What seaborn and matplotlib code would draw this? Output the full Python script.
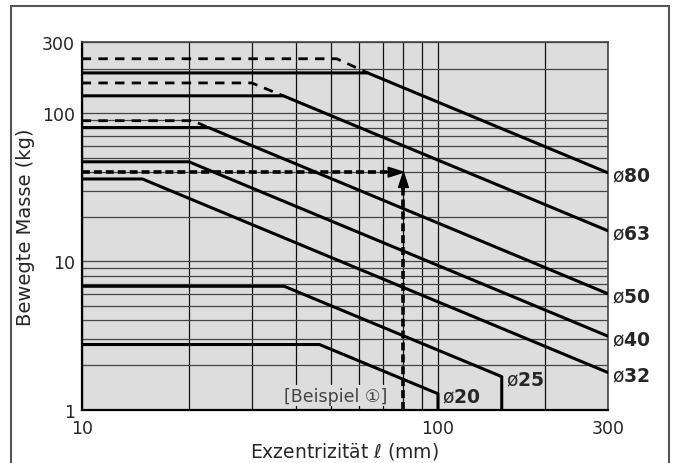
import pandas as pd
import matplotlib.pyplot as plt
import seaborn as sns
from matplotlib.patches import Rectangle

sns.set_style('white')
plt.rcParams['font.family'] = ['DejaVu Sans', 'Noto Sans CJK JP']
plt.rcParams['mathtext.fontset'] = 'dejavusans'

# Curve data (eccentricity in mm, moving mass in kg)
bores = ['80', '63', '50', '40', '32', '25', '20']
ecc_80 = [10, 63.5, 300]
mass_80 = [187, 187, 39.6]
ecc_63 = [10, 36.8, 300]
mass_63 = [131, 131, 16.1]
ecc_50 = [10, 22.7, 300]
mass_50 = [80, 80, 6.05]
ecc_40 = [10, 20, 300]
mass_40 = [47, 47, 3.13]
ecc_32 = [10, 14.8, 300]
mass_32 = [36, 36, 1.78]
ecc_25 = [10, 37, 151, 151]
mass_25 = [6.8, 6.8, 1.67, 1]
ecc_20 = [10, 46.5, 100, 100]
mass_20 = [2.75, 2.75, 1.28, 1]

# dashed extensions (higher plateaus)
dash_bores = ['80', '63', '50']
dash_ecc_80 = [10, 52, 63.5]
dash_mass_80 = [233, 233, 187]
dash_ecc_63 = [10, 30, 36.8]
dash_mass_63 = [160, 160, 131]
dash_ecc_50 = [10, 20.5, 22.7]
dash_mass_50 = [89, 89, 80]

# worked example
example_ecc = 80
example_mass = 40

solid = pd.concat([
    pd.DataFrame({'ecc': e, 'mass': m, 'bore': b})
    for b, e, m in zip(bores,
                       [ecc_80, ecc_63, ecc_50, ecc_40, ecc_32, ecc_25, ecc_20],
                       [mass_80, mass_63, mass_50, mass_40, mass_32, mass_25, mass_20])
])
dashed = pd.concat([
    pd.DataFrame({'ecc': e, 'mass': m, 'bore': b})
    for b, e, m in zip(dash_bores,
                       [dash_ecc_80, dash_ecc_63, dash_ecc_50],
                       [dash_mass_80, dash_mass_63, dash_mass_50])
])

fig = plt.figure(figsize=(6.75, 4.64), dpi=100)
ax = fig.add_axes([0.121, 0.115, 0.7797, 0.7913])
ax.set_facecolor('#dddddd')

ax.set_xscale('log')
ax.set_yscale('log')
ax.set_xlim(10, 300)
ax.set_ylim(1, 300)

ax.set_xticks([10, 100, 300])
ax.set_xticklabels(['10', '100', '300'])
ax.set_xticks([20, 30, 40, 50, 60, 70, 80, 90, 200], minor=True)
ax.set_xticklabels([], minor=True)
ax.set_yticks([1, 10, 100, 300])
ax.set_yticklabels(['1', '10', '100', '300'])
ax.set_yticks([2, 3, 4, 5, 6, 7, 8, 9, 20, 30, 40, 50, 60, 70, 80, 90, 200], minor=True)
ax.set_yticklabels([], minor=True)
ax.grid(which='both', axis='x', color='#111111', lw=0.9)
ax.grid(which='both', axis='y', color='#444444', lw=0.9)
ax.set_axisbelow(True)
ax.tick_params(which='both', length=0, labelsize=12.5)
ax.tick_params(axis='x', pad=7)
ax.tick_params(axis='y', pad=5)

for s in ax.spines.values():
    s.set_color('#444444')
    s.set_linewidth(1.2)
ax.spines['left'].set_color('black')
ax.spines['bottom'].set_color('black')
ax.spines['left'].set_linewidth(1.6)
ax.spines['bottom'].set_linewidth(1.6)

sns.lineplot(data=solid, x='ecc', y='mass', units='bore', estimator=None,
             sort=False, color='black', lw=2.2, ax=ax, zorder=3)
sns.lineplot(data=dashed, x='ecc', y='mass', units='bore', estimator=None,
             sort=False, color='black', lw=2.0, linestyle=(0, (3.4, 2.6)),
             ax=ax, zorder=3)

# example arrows
sns.lineplot(x=[10, example_ecc * 0.9], y=[example_mass, example_mass],
             color='black', lw=2.6, linestyle=(0, (2.2, 1.1)), ax=ax, zorder=4)
sns.lineplot(x=[example_ecc, example_ecc], y=[1, example_mass * 0.8],
             color='black', lw=2.6, linestyle=(0, (2.2, 1.1)), ax=ax,
             sort=False, estimator=None, zorder=4)
ax.annotate('', xy=(example_ecc, example_mass), xytext=(example_ecc * 0.88, example_mass),
            arrowprops=dict(width=0.1, headwidth=7, headlength=11, color='black'), zorder=5)
ax.annotate('', xy=(example_ecc, example_mass), xytext=(example_ecc, example_mass * 0.76),
            arrowprops=dict(width=0.1, headwidth=7, headlength=11, color='black'), zorder=5)

ax.text(51.7, 1.24, '[Beispiel ①]', ha='center', va='center', fontsize=12.5,
        color='#444444', zorder=3.5,
        bbox=dict(facecolor='#dddddd', edgecolor='none', pad=1.0))

# bore labels at curve ends
label_points = [(ecc_80[-1], mass_80[-1]), (ecc_63[-1], mass_63[-1]),
                (ecc_50[-1], mass_50[-1]), (ecc_40[-1], mass_40[-1]),
                (ecc_32[-1], mass_32[-1]), (ecc_25[2], mass_25[2]),
                (ecc_20[2], mass_20[2])]
for b, (x, y) in zip(bores, label_points):
    ax.annotate('ø$\\mathbf{' + b + '}$', xy=(x, y), xytext=(3, -2.5),
                textcoords='offset points', ha='left', va='center',
                fontsize=13.5, annotation_clip=False, zorder=6)

ax.set_xlabel('Exzentrizität $\\ell$ (mm)', fontsize=13.5, labelpad=2)
ax.set_ylabel('Bewegte Masse (kg)', fontsize=14, labelpad=5)

fig.patches.append(Rectangle((0.0163, -0.05), 0.9748, 1.035, transform=fig.transFigure,
                             fill=False, edgecolor='#555555', lw=1.5))

fig.savefig('out.png', dpi=100)
